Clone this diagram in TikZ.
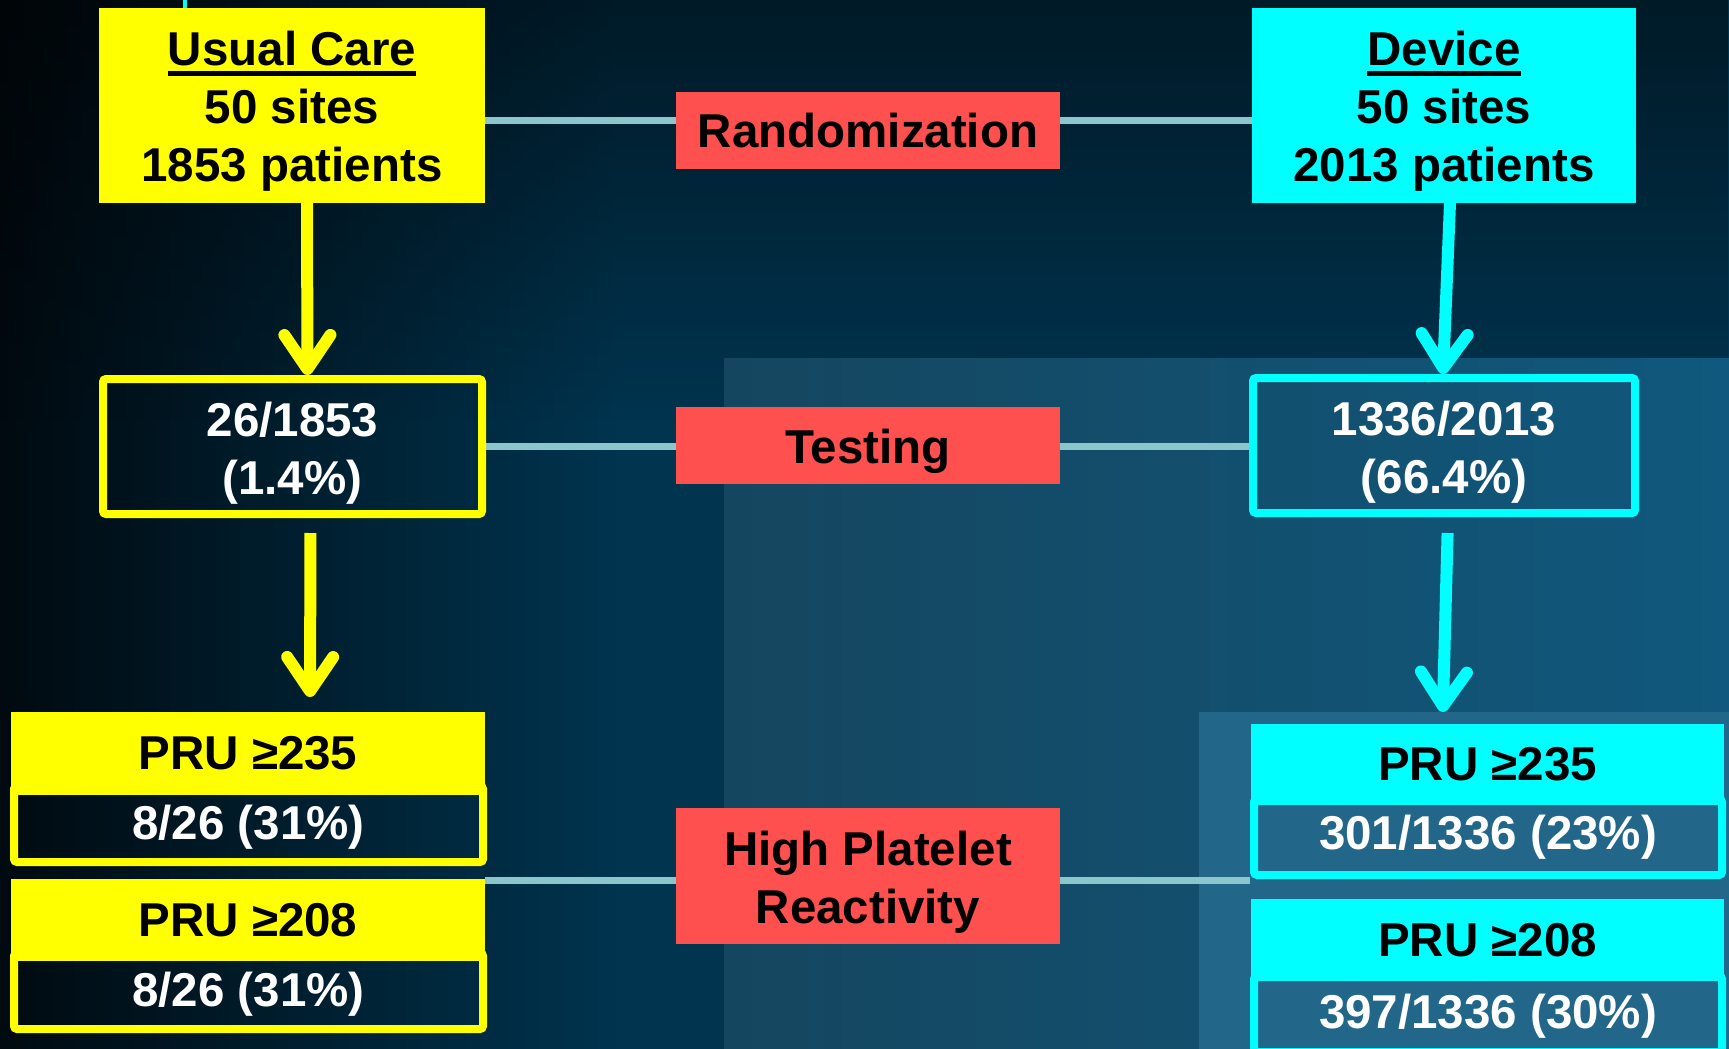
\documentclass[tikz,border=0pt]{standalone}
\usepackage{fontspec}
\setmainfont{Liberation Sans}
\usetikzlibrary{arrows.meta,fadings}
\definecolor{bgL}{HTML}{000A10}
\definecolor{bgM}{HTML}{00344F}
\definecolor{pnlA}{HTML}{15465F}
\definecolor{pnlB}{HTML}{10587D}
\definecolor{pnlC}{HTML}{22668A}
\definecolor{yel}{HTML}{FFFF00}
\definecolor{cyn}{HTML}{00FFFF}
\definecolor{redbox}{HTML}{FF5050}
\definecolor{connc}{HTML}{8CC6CD}
\newcommand\myul[1]{\setbox0=\hbox{#1}\rlap{\raisebox{-10pt}{\rule{\wd0}{5pt}}}\box0}
\newcommand\mystrut[1]{\rule{0pt}{#1}}
\pgfdeclarelayer{back}
\pgfdeclarelayer{conn}
\pgfsetlayers{back,conn,main}
\tikzset{
  fbox/.style={inner sep=0pt, outer sep=0pt, align=center, anchor=center},
  redlab/.style={fbox, fill=redbox, text=black, minimum width=384pt},
  ylab/.style={fbox, fill=yel, text=black},
  clab/.style={fbox, fill=cyn, text=black},
  yval/.style={fbox, draw=yel, line width=8pt, rounded corners=3pt, text=white, outer sep=4pt},
  cval/.style={fbox, draw=cyn, line width=8pt, rounded corners=3pt, text=white, outer sep=4pt},
  link/.style={draw=connc, line width=7pt},
  yarr/.style={draw=yel, line width=12pt, -{Straight Barb[length=34pt,width=46pt,round]}},
  carr/.style={draw=cyn, line width=12pt, -{Straight Barb[length=34pt,width=46pt,round]}},
}
\begin{document}
\begin{tikzpicture}[x=1pt,y=-1pt,font=\fontsize{47.5}{58}\selectfont\bfseries]
\useasboundingbox (0,0) rectangle (1729,1049);

% top block
\node[ylab, minimum width=386pt, minimum height=195pt] (uc) at (292,105.5) {\mystrut{46pt}\myul{Usual Care}\\50 sites\\1853 patients};
\node[clab, minimum width=384pt, minimum height=195pt] (dev) at (1444,105.5) {\mystrut{46pt}\myul{Device}\\50 sites\\2013 patients};
\node[redlab, minimum height=77pt] (rnd) at (868,130.5) {Randomization};

% testing row
\node[yval, minimum width=379pt, minimum height=135pt] (uct) at (292.5,446.5) {\mystrut{48pt}26/1853\\(1.4\%)};
\node[cval, minimum width=382pt, minimum height=135pt] (devt) at (1444,445.5) {\mystrut{48pt}1336/2013\\(66.4\%)};
\node[redlab, minimum height=77pt] (tst) at (868,445.5) {\mystrut{46pt}Testing};

% HPR row
\node[redlab, minimum height=136pt] (hpr) at (868,876) {\mystrut{46pt}High Platelet\\Reactivity};

\node[ylab, minimum width=474pt, minimum height=83pt] (lp1) at (248,753.5) {PRU ≥235};
\node[yval, minimum width=469pt, minimum height=76pt] (lv1) at (248.5,824) {\mystrut{41pt}8/26 (31\%)};
\node[ylab, minimum width=474pt, minimum height=82pt] (lp2) at (248,920) {PRU ≥208};
\node[yval, minimum width=469pt, minimum height=76pt] (lv2) at (248.5,991) {\mystrut{41pt}8/26 (31\%)};

\node[clab, minimum width=473pt, minimum height=81pt] (rp1) at (1487.5,764.5) {PRU ≥235};
\node[cval, minimum width=468pt, minimum height=76pt] (rv1) at (1488,837) {301/1336 (23\%)};
\node[clab, minimum width=473pt, minimum height=82pt] (rp2) at (1487.5,940) {PRU ≥208};
\node[cval, minimum width=468pt, minimum height=76pt] (rv2) at (1488,1014) {\mystrut{38pt}397/1336 (30\%)};

% background
\begin{pgfonlayer}{back}
  \shade[left color=bgL, right color=bgM] (0,0) rectangle (620,1049);
  \fill[bgM] (619,0) rectangle (1729,1049);
  \fill[black, opacity=0.5, path fading=south] (0,0) rectangle (1729,420);
  \shade[left color=pnlA, right color=pnlB] (724,358) rectangle (1729,1049);
  \fill[pnlC] (1199,712) rectangle (1729,1049);
\end{pgfonlayer}

% connectors
\begin{pgfonlayer}{conn}
  \draw[link] ([yshift=-14.5pt]uc.east) -- ([yshift=-14.5pt]dev.west);
  \draw[link] (uct.east) -- (uct.east -| devt.west);
  \draw[link] ([yshift=-1.5pt]lp2.north east) -- ([yshift=-1.5pt]rv1.south west);
  \coordinate (cf) at (185,0);
  \draw[draw=cyn, line width=4pt] (cf) -- (cf |- uc.north);
\end{pgfonlayer}

% arrows
\draw[yarr] ([xshift=15pt]uc.south) -- ([xshift=15pt]uct.north);
\draw[yarr, shorten <=15pt, shorten >=15pt] ([xshift=18pt]uct.south) -- ([xshift=62pt]lp1.north);
\draw[carr] ([xshift=6pt]dev.south) -- ([xshift=-1pt]devt.north);
\draw[carr, shorten <=16pt, shorten >=12pt] ([xshift=4pt]devt.south) -- ([xshift=-45pt]rp1.north);
\end{tikzpicture}
\end{document}
